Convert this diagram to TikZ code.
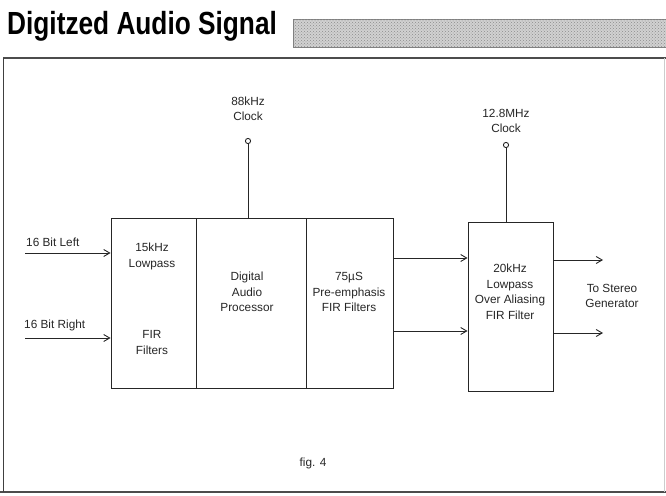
\documentclass[tikz,border=0pt]{standalone}
\usepackage{fontspec}
\setmainfont{Liberation Sans}
\newfontfamily\titlefont[FakeStretch=0.82]{Liberation Sans}
\usetikzlibrary{arrows.meta,patterns}
\tikzset{
  blk/.style={draw=black!85, line width=0.9pt, rectangle, inner sep=0pt},
  lbl/.style={font=\fontsize{11.8}{15.5}\selectfont, align=center, inner sep=0pt, text=black!85},
  arr/.style={draw=black!85, line width=0.9pt, -{Straight Barb[length=6pt,width=7pt,line width=0.9pt]}},
  wire/.style={draw=black!85, line width=0.9pt},
  clk/.style={draw=black!85, line width=0.9pt, circle, minimum size=5.2pt, inner sep=0pt, fill=white},
  frameline/.style={draw=black!70, line width=1.3pt}
}
\begin{document}
\begin{tikzpicture}[x=1pt,y=-1pt]
\useasboundingbox (0,0) rectangle (666,495);
% title
\node[anchor=base west, inner sep=0pt, font=\titlefont\bfseries\fontsize{32}{36}\selectfont] (title) at (7,35) {Digitzed Audio Signal};
\node[draw=black!50, line width=0.8pt, fill=black!18, minimum width=380pt, minimum height=28pt, anchor=north west, inner sep=0pt,
      postaction={pattern=crosshatch dots, pattern color=black!45}] (bar) at (293,19) {};
% frame
\coordinate (f1) at (3,58);
\coordinate (f2) at (666,58);
\coordinate (f3) at (3,492);
\coordinate (f4) at (666,492);
\coordinate (f5) at (0,492);
\coordinate (f6) at (664,58);
\coordinate (f7) at (664,492);
\draw[frameline] (f1) -- (f2);
\draw[frameline] (f5) -- (f4);
\draw[draw=black!75, line width=1pt] (f1) -- (f3);
\draw[draw=black!20, line width=0.8pt] (f6) -- (f7);
% blocks
\node[blk, minimum width=85pt, minimum height=170pt] (b1) at (153.5,303) {};
\node[blk, minimum width=110.5pt, minimum height=170pt] (b2) at (251.25,303) {};
\node[blk, minimum width=86.5pt, minimum height=170pt] (b3) at (350,303) {};
\node[blk, minimum width=85pt, minimum height=169pt] (b4) at (510.5,306.5) {};
% block texts
\node[lbl] (t1a) at (152,256.5) {15kHz\\Lowpass};
\node[lbl] (t1b) at (152,342.5) {FIR\\Filters};
\node[lbl] (t2) at (247,292) {Digital\\Audio\\Processor};
\node[lbl] (t3) at (349,292) {75µS\\Pre-emphasis\\FIR Filters};
\node[lbl] (t4) at (510,292) {20kHz\\Lowpass\\Over Aliasing\\FIR Filter};
% inputs
\node[lbl, anchor=base west] (in1t) at (26,246) {16 Bit Left};
\node[lbl, anchor=base west] (in2t) at (24,328) {16 Bit Right};
\coordinate (in1) at (25,253);
\coordinate (in2) at (25,338);
\draw[arr] (in1) -- (in1 -| b1.west);
\draw[arr] (in2) -- (in2 -| b1.west);
% between b3 and b4
\coordinate (m1) at (400,258);
\coordinate (m2) at (400,331);
\draw[arr] (m1 -| b3.east) -- (m1 -| b4.west);
\draw[arr] (m2 -| b3.east) -- (m2 -| b4.west);
% outputs
\coordinate (o1) at (603,260);
\coordinate (o2) at (603,333);
\draw[arr] (o1 -| b4.east) -- (o1);
\draw[arr] (o2 -| b4.east) -- (o2);
\node[lbl] (outt) at (612,296) {To Stereo\\Generator};
% clocks
\node[clk] (c1) at (248,141) {};
\node[clk] (c2) at (506,145) {};
\draw[wire] (c1.south) -- (c1.south |- b2.north);
\draw[wire] (c2.south) -- (c2.south |- b4.north);
\node[lbl] (c1t) at (248,109) {88kHz\\Clock};
\node[lbl] (c2t) at (506,121) {12.8MHz\\Clock};
% caption
\node[lbl] (fig) at (313,463) {fig. 4};
\end{tikzpicture}
\end{document}
